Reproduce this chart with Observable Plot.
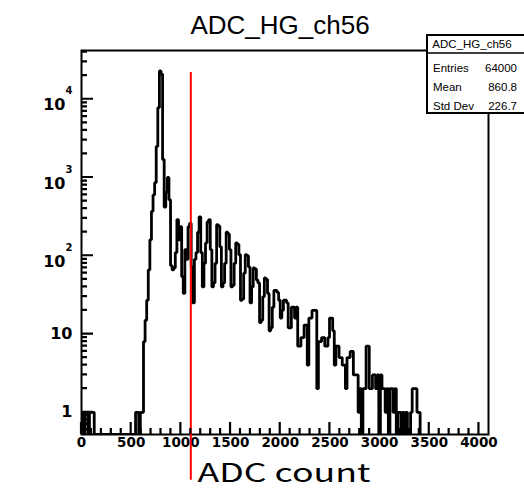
<!DOCTYPE html>
<html><head><meta charset="utf-8">
<script src="https://cdn.jsdelivr.net/npm/d3@7"></script>
<script src="https://cdn.jsdelivr.net/npm/@observablehq/plot@0.6"></script>
<style>html,body{margin:0;padding:0;background:#fff;} #chart svg{display:block}</style>
</head><body><div id="chart"></div>
<script>
// ---- data ----
const title = "ADC_HG_ch56";
const xLabel = "ADC count";
const binWidth = 16;           // ADC counts per bin, first bin starts at 0
const counts = [
  1,0,1,1,0,1,1,1,
  0,0,0,0,0,0,0,0,0,0,0,0,0,0,0,0,0,0,0,0,0,0,0,0,0,0,
  1,1,0,1,1,
  8,15,27,66,160,370,600,860,2500,7800,23000,21000,1700,420,650,1000,520,
  75,66,70,110,290,160,235,54,33,120,90,235,260,72,25,90,110,200,315,110,
  40,80,146,270,290,120,40,45,80,250,240,130,40,45,80,200,190,120,40,42,
  80,146,140,103,27,28,60,103,100,72,25,40,70,68,49,45,14,15,30,52,
  50,33,11,12,22,36,36,34,27,16,20,27,27,25,12,12,22,22,16,22,
  7,7,9,9,13,13,4,16,16,20,20,20,2,8,8,9,9,7,7,9,
  16,16,11,4,7,7,5,5,4,4,2,5,5,6,6,3,3,3,1,2,
  0,2,2,7,7,2,2,3,3,2,3,0,3,2,2,1,2,0,2,2,
  1,2,0,1,1,0,1,0,1,0,0,1,2,2,2,1,1
];
const xDomain = [0, 4096];
const yDomain = [0.52, 42000];
const xMajorTicks = [0, 500, 1000, 1500, 2000, 2500, 3000, 3500, 4000];
const xTickLabels = ["0", "500", "1000", "1500", "2000", "2500", "3000", "3500", "4000"];
const yPlainTicks = [1, 10];
const yPlainLabels = ["1", "10"];
const yPowerTicks = [100, 1000, 10000];
const yPowerExponents = ["2", "3", "4"];
const cutLine = {x: 1100, yLow: 0.135, yHigh: 22000};
const statsName = "ADC_HG_ch56";
const statsLabels = ["Entries", "Mean", "Std Dev"];
const statsValues = ["64000", "860.8", "226.7"];

// ---- layout ----
const W = 524, H = 490, mL = 81, mR = 36, mT = 50, mB = 56;
const tickFont = "DejaVu Sans";
const majorLen = 12, minorLen = 6;

// ---- derived ----
const xMinorTicks = d3.range(100, 4001, 100).filter(v => v % 500 !== 0);
const yMinorTicks = [];
for (let e = -1; e <= 4; e++) for (let k = 2; k <= 9; k++) {
  const v = k * Math.pow(10, e);
  if (v > yDomain[0] && v < yDomain[1]) yMinorTicks.push(v);
}
const floor = yDomain[0];
const steps = [{x: 0, y: floor}]
  .concat(counts.map((c, i) => ({x: i * binWidth, y: c > 0 ? c : floor})))
  .concat([{x: counts.length * binWidth, y: floor}]);

const chart = Plot.plot({
  width: W, height: H,
  marginLeft: mL, marginRight: mR, marginTop: mT, marginBottom: mB,
  x: {domain: xDomain, axis: null},
  y: {type: "log", domain: yDomain, axis: null},
  style: {background: "white", overflow: "hidden", fontFamily: "Liberation Sans"},
  marks: [
    Plot.line(steps, {x: "x", y: "y", curve: "step-after", stroke: "black", strokeWidth: 2.8, clip: true, strokeLinejoin: "miter", strokeLinecap: "butt"}),
    Plot.frame({stroke: "black", strokeWidth: 2}),
    Plot.text(xMajorTicks, {x: d => d, text: (d, i) => xTickLabels[i], frameAnchor: "bottom", lineAnchor: "top", dy: 3,
      fontFamily: tickFont, fontWeight: "bold", fontSize: 13.5, fill: "black"}),
    Plot.text(yPlainTicks, {y: d => d, text: (d, i) => yPlainLabels[i], frameAnchor: "left", textAnchor: "end", dx: -9,
      fontFamily: tickFont, fontWeight: "bold", fontSize: 16, fill: "black"}),
    Plot.text(yPowerTicks, {y: d => d, text: () => "10", frameAnchor: "left", textAnchor: "end", dx: -16, dy: 6,
      fontFamily: tickFont, fontWeight: "bold", fontSize: 16, fill: "black"}),
    Plot.text(yPowerTicks, {y: d => d, text: (d, i) => yPowerExponents[i], frameAnchor: "left", textAnchor: "end", dx: -9, dy: -8,
      fontFamily: tickFont, fontWeight: "bold", fontSize: 10, fill: "black"}),
    Plot.text([title], {frameAnchor: "top", lineAnchor: "bottom", dy: -17, dx: -5, fontSize: 26, fontFamily: "Liberation Sans", fill: "black"}),
    Plot.text([xLabel], {frameAnchor: "bottom-left", textAnchor: "start", lineAnchor: "bottom", dx: 116, dy: 47,
      fontSize: 25, fontFamily: "Noto Sans CJK JP", fill: "black"}),
    Plot.ruleX([cutLine], {x: "x", y1: "yLow", y2: "yHigh", stroke: "red", strokeWidth: 2})
  ]
});
document.getElementById("chart").appendChild(chart);

const svg = d3.select(chart);
// the axis title in the reference is drawn with a wide face: stretch it to the same span
svg.selectAll("text").filter(function () { return this.textContent === xLabel; })
  .attr("textLength", 173).attr("lengthAdjust", "spacingAndGlyphs");

// ---- inward ROOT-style ticks, placed with the plot's own scales ----
const sx = chart.scale("x"), sy = chart.scale("y");
const okX = sx && typeof sx.apply === "function" && isFinite(sx.apply(500));
const okY = sy && typeof sy.apply === "function" && isFinite(sy.apply(100));
const fx = okX ? (v => sx.apply(v)) : d3.scaleLinear(xDomain, [mL, W - mR]);
const fy = okY ? (v => sy.apply(v)) : d3.scaleLog(yDomain, [H - mB, mT]);
const bottom = H - mB, left = mL;
let tickPath = "";
const addX = (vals, len) => vals.forEach(v => { const px = fx(v); tickPath += `M${px},${bottom}V${bottom - len}`; });
const addY = (vals, len) => vals.forEach(v => { const py = fy(v); tickPath += `M${left},${py}H${left + len}`; });
addX(xMajorTicks, majorLen);
addX(xMinorTicks, minorLen);
addY(yPowerTicks.concat(yPlainTicks), majorLen);
addY(yMinorTicks, minorLen);
svg.append("path").attr("d", tickPath).attr("fill", "none").attr("stroke", "#000").attr("stroke-width", 2.2);

// ---- statistics box (ROOT TPaveStats) ----
const box = svg.append("g").attr("font-family", "Liberation Sans").attr("font-size", 11.5).attr("fill", "black");
box.append("rect").attr("x", 427).attr("y", 35).attr("width", 110).attr("height", 78)
  .attr("fill", "white").attr("stroke", "black").attr("stroke-width", 2);
box.append("line").attr("x1", 427).attr("x2", 540).attr("y1", 53).attr("y2", 53)
  .attr("stroke", "black").attr("stroke-width", 1.5);
box.append("text").attr("x", 472).attr("y", 48).attr("text-anchor", "middle").text(statsName);
statsLabels.forEach((lab, i) => {
  const y = 71.5 + i * 19;
  box.append("text").attr("x", 433).attr("y", y).attr("text-anchor", "start").text(lab);
  box.append("text").attr("x", 517).attr("y", y).attr("text-anchor", "end").text(statsValues[i]);
});
</script>
</body></html>
